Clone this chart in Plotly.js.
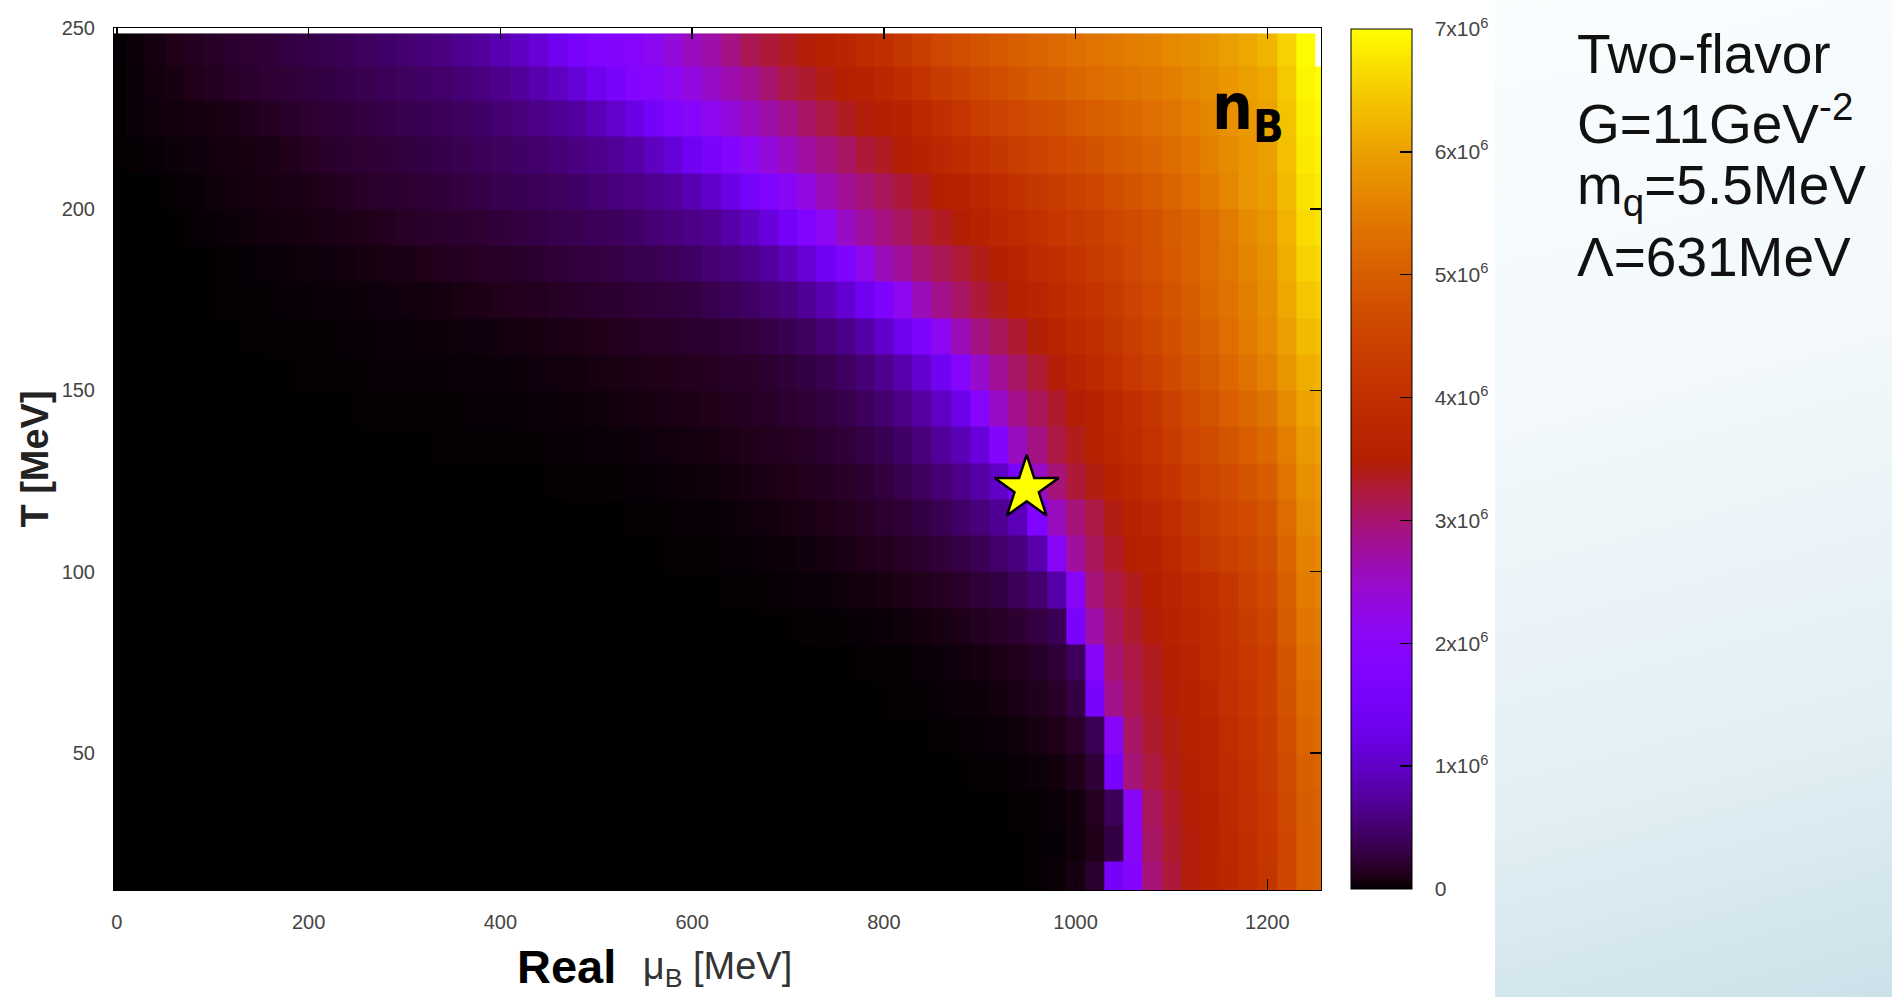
<!DOCTYPE html>
<html>
<head>
<meta charset="utf-8">
<script src="https://cdn.plot.ly/plotly-3.0.1.min.js"></script>
<style>
  html, body { margin: 0; padding: 0; background: #ffffff; width: 1892px; height: 997px; overflow: hidden; }
  #bgpanel { position: absolute; left: 1495px; top: 0; width: 397px; height: 997px; z-index: 0;
    background: linear-gradient(165deg, #fafdfe 0%, #f2f8fb 40%, #e2eff4 75%, #cbe1e9 100%); }
  #chart { position: absolute; left: 0; top: 0; width: 1892px; height: 997px; z-index: 1; }
</style>
</head>
<body>
<div id="bgpanel"></div>
<div id="chart"></div>
<script>
// ---- axes (MeV) ----
const muB = [0,20,40,60,80,100,120,140,160,180,200,220,240,260,280,300,320,340,360,380,400,420,440,460,480,500,520,540,560,580,600,620,640,660,680,700,720,740,760,780,800,820,840,860,880,900,920,940,960,980,1000,1020,1040,1060,1080,1100,1120,1140,1160,1180,1200,1220,1240,1260];
const T = [15,25,35,45,55,65,75,85,95,105,115,125,135,145,155,165,175,185,195,205,215,225,235,244];

// ---- n_B values, in units of 10^6, one array per temperature row (mu_B = 0..1260 step 20) ----
const nB_T015 = [0,0,0,0,0,0,0,0,0,0,0,0,0,0,0,0,0,0,0,0,0,0,0,0,0,0,0,0,0,0,0,0,0,0,0,0,0,0,0,0,0,0,0,0,0.001,0.003,0.006,0.011,0.02,0.04,0.08,0.2,1.5,1.9,2.95,3.25,3.45,3.6,3.77,3.97,4.17,4.55,4.95,5.05];
const nB_T025 = [0,0,0,0,0,0,0,0,0,0,0,0,0,0,0,0,0,0,0,0,0,0,0,0,0,0,0,0,0,0,0,0,0,0,0,0,0,0,0,0,0,0,0,0,0,0.003,0.005,0.009,0.016,0.027,0.05,0.11,0.3,2.0,3.05,3.3,3.45,3.6,3.78,3.98,4.18,4.56,4.95,5.05];
const nB_T035 = [0,0,0,0,0,0,0,0,0,0,0,0,0,0,0,0,0,0,0,0,0,0,0,0,0,0,0,0,0,0,0,0,0,0,0,0,0,0,0,0,0,0,0,0,0.002,0.004,0.008,0.013,0.022,0.037,0.065,0.15,0.4,2.0,3.1,3.33,3.48,3.62,3.82,4.02,4.22,4.6,5.0,5.1];
const nB_T045 = [0,0,0,0,0,0,0,0,0,0,0,0,0,0,0,0,0,0,0,0,0,0,0,0,0,0,0,0,0,0,0,0,0,0,0,0,0,0,0,0,0,0,0.003,0.004,0.007,0.012,0.018,0.027,0.041,0.063,0.11,0.25,1.6,2.95,3.22,3.4,3.55,3.66,3.88,4.07,4.27,4.65,5.05,5.15];
const nB_T055 = [0,0,0,0,0,0,0,0,0,0,0,0,0,0,0,0,0,0,0,0,0,0,0,0,0,0,0,0,0,0,0,0,0,0,0,0,0,0.002,0.003,0.005,0.006,0.008,0.011,0.015,0.02,0.028,0.037,0.053,0.076,0.11,0.19,0.38,2.0,3.05,3.3,3.43,3.58,3.7,3.93,4.12,4.32,4.72,5.15,5.25];
const nB_T065 = [0,0,0,0,0,0,0,0,0,0,0,0,0,0,0,0,0,0,0,0,0,0,0,0,0,0,0,0,0,0,0,0,0,0,0,0,0.003,0.004,0.006,0.008,0.011,0.014,0.02,0.027,0.036,0.047,0.062,0.086,0.12,0.18,0.3,1.6,2.85,3.15,3.32,3.47,3.6,3.75,4.01,4.18,4.38,4.8,5.22,5.32];
const nB_T075 = [0,0,0,0,0,0,0,0,0,0,0,0,0,0,0,0,0,0,0,0,0,0,0,0,0,0,0,0,0,0,0,0,0,0,0,0.003,0.004,0.007,0.01,0.013,0.017,0.024,0.033,0.042,0.055,0.068,0.092,0.125,0.17,0.25,0.4,2.0,3.0,3.2,3.37,3.52,3.63,3.85,4.05,4.22,4.4,4.85,5.3,5.4];
const nB_T085 = [0,0,0,0,0,0,0,0,0,0,0,0,0,0,0,0,0,0,0,0,0,0,0,0,0,0,0,0,0,0,0.002,0.003,0.004,0.006,0.008,0.01,0.014,0.018,0.024,0.03,0.038,0.05,0.064,0.08,0.1,0.13,0.17,0.22,0.29,0.38,1.6,2.7,3.1,3.3,3.45,3.6,3.72,3.9,4.1,4.31,4.51,4.95,5.4,5.5];
const nB_T095 = [0,0,0,0,0,0,0,0,0,0,0,0,0,0,0,0,0,0,0,0,0,0,0,0,0,0.002,0.003,0.004,0.005,0.007,0.009,0.011,0.014,0.018,0.022,0.027,0.034,0.042,0.052,0.063,0.08,0.1,0.12,0.15,0.19,0.24,0.3,0.39,0.5,0.8,2.0,2.95,3.2,3.37,3.55,3.65,3.82,4.0,4.2,4.44,4.62,5.05,5.5,5.6];
const nB_T105 = [0,0,0,0,0,0,0,0,0,0,0,0,0,0,0,0,0,0,0,0,0,0,0,0,0.003,0.004,0.006,0.008,0.011,0.013,0.017,0.021,0.027,0.032,0.038,0.048,0.058,0.07,0.087,0.11,0.13,0.16,0.2,0.25,0.31,0.38,0.48,0.58,0.82,2.0,2.75,3.1,3.33,3.5,3.62,3.8,4.05,4.24,4.41,4.56,4.73,5.15,5.58,5.68];
const nB_T115 = [0,0,0,0,0,0,0,0,0,0,0,0,0,0,0,0,0,0,0,0,0,0,0,0.004,0.006,0.008,0.01,0.013,0.018,0.022,0.027,0.032,0.04,0.05,0.06,0.074,0.09,0.11,0.13,0.16,0.2,0.24,0.3,0.37,0.46,0.56,0.68,0.9,1.75,2.55,2.95,3.2,3.42,3.6,3.75,3.95,4.2,4.38,4.54,4.69,4.84,5.25,5.68,5.78];
const nB_T125 = [0,0,0,0,0,0,0,0,0,0,0,0,0,0.001,0.002,0.003,0.004,0.004,0.005,0.006,0.007,0.008,0.009,0.012,0.015,0.02,0.023,0.026,0.031,0.039,0.046,0.052,0.063,0.078,0.093,0.11,0.13,0.155,0.19,0.22,0.28,0.34,0.42,0.52,0.65,0.78,1.0,1.6,2.5,2.95,3.25,3.42,3.6,3.76,3.93,4.13,4.38,4.53,4.68,4.84,4.99,5.38,5.78,5.88];
const nB_T135 = [0,0,0,0,0,0,0,0,0,0,0.002,0.004,0.005,0.006,0.007,0.01,0.011,0.013,0.014,0.016,0.018,0.02,0.023,0.027,0.031,0.035,0.04,0.046,0.055,0.062,0.07,0.08,0.095,0.115,0.13,0.15,0.17,0.21,0.25,0.31,0.37,0.46,0.56,0.72,0.88,1.15,1.9,2.55,2.9,3.2,3.38,3.58,3.74,3.91,4.09,4.29,4.52,4.67,4.84,5.01,5.18,5.52,5.9,6.0];
const nB_T145 = [0,0,0,0,0,0,0,0,0.001,0.003,0.006,0.008,0.01,0.012,0.015,0.018,0.02,0.022,0.024,0.026,0.028,0.032,0.036,0.04,0.045,0.052,0.06,0.07,0.079,0.088,0.1,0.115,0.13,0.15,0.17,0.2,0.24,0.28,0.33,0.41,0.5,0.62,0.77,0.98,1.3,1.95,2.5,2.85,3.1,3.3,3.48,3.62,3.8,4.0,4.2,4.42,4.65,4.83,5.01,5.19,5.37,5.68,6.02,6.12];
const nB_T155 = [0,0,0,0,0,0,0,0.002,0.006,0.01,0.013,0.016,0.019,0.022,0.026,0.028,0.03,0.032,0.034,0.036,0.042,0.048,0.055,0.061,0.066,0.075,0.085,0.095,0.105,0.115,0.13,0.15,0.17,0.19,0.22,0.25,0.3,0.35,0.43,0.53,0.66,0.84,1.07,1.4,1.95,2.45,2.8,3.05,3.27,3.45,3.64,3.82,4.03,4.22,4.42,4.62,4.83,4.98,5.17,5.36,5.56,5.85,6.15,6.25];
const nB_T165 = [0,0,0,0.001,0.003,0.006,0.009,0.012,0.015,0.018,0.02,0.024,0.028,0.031,0.035,0.039,0.044,0.048,0.052,0.058,0.065,0.072,0.08,0.09,0.1,0.11,0.13,0.15,0.16,0.18,0.2,0.22,0.24,0.27,0.31,0.36,0.43,0.52,0.63,0.8,1.03,1.35,1.7,2.1,2.6,2.9,3.1,3.28,3.48,3.63,3.83,3.98,4.17,4.36,4.55,4.74,4.94,5.09,5.29,5.49,5.68,5.98,6.3,6.4];
const nB_T175 = [0,0,0,0.002,0.005,0.01,0.013,0.017,0.02,0.026,0.032,0.036,0.04,0.047,0.055,0.06,0.065,0.07,0.085,0.1,0.12,0.13,0.14,0.16,0.18,0.2,0.22,0.24,0.26,0.28,0.3,0.34,0.39,0.44,0.51,0.58,0.7,0.86,1.08,1.38,1.72,2.15,2.6,2.85,3.05,3.25,3.4,3.56,3.68,3.83,3.98,4.14,4.3,4.47,4.65,4.83,5.0,5.18,5.36,5.55,5.74,6.08,6.42,6.52];
const nB_T185 = [0,0,0.002,0.004,0.007,0.011,0.014,0.025,0.035,0.045,0.05,0.056,0.066,0.075,0.085,0.09,0.11,0.13,0.15,0.16,0.17,0.19,0.21,0.24,0.27,0.29,0.31,0.34,0.36,0.4,0.44,0.51,0.57,0.63,0.75,0.91,1.13,1.42,1.73,2.2,2.6,2.78,2.97,3.12,3.26,3.4,3.55,3.7,3.85,4.0,4.13,4.27,4.42,4.58,4.75,4.92,5.1,5.27,5.44,5.62,5.8,6.15,6.55,6.65];
const nB_T195 = [0,0,0.005,0.01,0.02,0.03,0.04,0.05,0.06,0.07,0.08,0.09,0.1,0.11,0.13,0.16,0.18,0.2,0.22,0.23,0.26,0.29,0.31,0.34,0.36,0.39,0.41,0.46,0.52,0.57,0.62,0.68,0.81,0.96,1.18,1.45,1.75,2.1,2.5,2.75,2.92,3.07,3.22,3.35,3.48,3.6,3.74,3.88,4.03,4.18,4.3,4.4,4.52,4.66,4.8,4.95,5.1,5.27,5.47,5.7,5.85,6.22,6.65,6.75];
const nB_T205 = [0,0.005,0.01,0.02,0.03,0.05,0.06,0.07,0.08,0.09,0.1,0.12,0.15,0.18,0.2,0.22,0.24,0.26,0.29,0.32,0.35,0.37,0.4,0.43,0.45,0.51,0.57,0.61,0.66,0.73,0.87,1.03,1.25,1.52,1.8,2.0,2.3,2.6,2.8,2.95,3.1,3.25,3.37,3.5,3.6,3.72,3.88,4.05,4.2,4.33,4.45,4.56,4.71,4.84,4.98,5.12,5.28,5.45,5.65,5.84,5.95,6.3,6.72,6.82];
const nB_T215 = [0.01,0.02,0.03,0.04,0.05,0.06,0.07,0.08,0.09,0.12,0.15,0.18,0.21,0.23,0.25,0.27,0.3,0.33,0.36,0.39,0.42,0.45,0.49,0.53,0.59,0.64,0.71,0.81,0.95,1.14,1.38,1.65,1.85,2.1,2.35,2.55,2.75,2.9,3.05,3.25,3.35,3.48,3.6,3.75,3.9,4.06,4.2,4.34,4.47,4.58,4.69,4.8,4.91,5.03,5.14,5.26,5.41,5.56,5.7,5.84,5.98,6.35,6.8,6.9];
const nB_T225 = [0.02,0.04,0.05,0.06,0.07,0.08,0.09,0.12,0.15,0.18,0.21,0.24,0.26,0.29,0.31,0.34,0.37,0.4,0.43,0.46,0.51,0.56,0.62,0.68,0.76,0.88,1.04,1.25,1.5,1.77,1.95,2.15,2.35,2.55,2.7,2.85,3.05,3.2,3.35,3.45,3.55,3.62,3.8,3.98,4.16,4.34,4.46,4.58,4.7,4.8,4.91,5.01,5.11,5.21,5.3,5.39,5.52,5.65,5.78,5.9,6.03,6.4,6.85,6.95];
const nB_T235 = [0.02,0.04,0.06,0.08,0.11,0.14,0.17,0.2,0.23,0.25,0.28,0.3,0.33,0.36,0.39,0.42,0.45,0.48,0.53,0.58,0.65,0.72,0.83,0.96,1.14,1.37,1.62,1.85,1.95,2.1,2.3,2.5,2.65,2.8,3.0,3.2,3.3,3.42,3.52,3.6,3.75,3.9,4.1,4.3,4.45,4.6,4.72,4.84,4.95,5.05,5.15,5.23,5.32,5.39,5.46,5.53,5.64,5.75,5.86,5.97,6.08,6.45,6.9,7.0];
const nB_T244 = [0.02,0.045,0.07,0.11,0.14,0.17,0.2,0.23,0.26,0.29,0.32,0.35,0.38,0.42,0.46,0.5,0.54,0.59,0.66,0.75,0.86,0.97,1.13,1.35,1.6,1.8,1.88,1.95,2.1,2.35,2.55,2.7,2.9,3.12,3.25,3.35,3.47,3.57,3.7,3.85,4.0,4.2,4.4,4.58,4.72,4.82,4.92,5.02,5.12,5.22,5.3,5.38,5.45,5.52,5.58,5.67,5.76,5.85,5.97,6.08,6.25,6.55,6.95,null];

// ---- critical end point ----
const cepMu = [949];
const cepT = [123];

// ---- tick labels ----
const xTicks = [0,200,400,600,800,1000,1200];
const yTicks = [50,100,150,200,250];
const cbTickVals = [0,1,2,3,4,5,6,7];
const cbTickText = ['0','1x10<sup>6</sup>','2x10<sup>6</sup>','3x10<sup>6</sup>','4x10<sup>6</sup>','5x10<sup>6</sup>','6x10<sup>6</sup>','7x10<sup>6</sup>'];

const textLines = ['Two-flavor', 'G=11GeV<sup>-2</sup>', 'm<sub>q</sub>=5.5MeV', 'Λ=631MeV'];

// gnuplot default pm3d palette (rgbformulae 7,5,15)
const N = 64;
const colorscale = [];
for (let i = 0; i <= N; i++) {
  const t = i / N;
  const r = Math.round(255 * Math.sqrt(t));
  const g = Math.round(255 * Math.pow(t, 3));
  const b = Math.round(255 * Math.max(0, Math.sin(2 * Math.PI * t)));
  colorscale.push([t, `rgb(${r},${g},${b})`]);
}

const rows = [nB_T015,nB_T025,nB_T035,nB_T045,nB_T055,nB_T065,nB_T075,nB_T085,nB_T095,nB_T105,nB_T115,nB_T125,nB_T135,nB_T145,nB_T155,nB_T165,nB_T175,nB_T185,nB_T195,nB_T205,nB_T215,nB_T225,nB_T235,nB_T244];
const z = rows.map(r => r.map(v => v === null ? null : v * 1e6));

const FONT = 'Liberation Sans, Arial, Helvetica, sans-serif';
const NARROW = 'Liberation Sans Narrow, DejaVu Sans Condensed, Liberation Sans, Arial, sans-serif';
const PAD = '\u00a0\u00a0\u00a0';

const heat = {
  type: 'heatmap', x: muB, y: T, z: z,
  zmin: 0, zmax: 7e6, colorscale: colorscale, hoverinfo: 'skip',
  colorbar: {
    x: 1.0249, xanchor: 'left', xpad: 0,
    y: 0.5, yanchor: 'middle', ypad: 0,
    len: 860, lenmode: 'pixels', thickness: 61, thicknessmode: 'pixels',
    outlinewidth: 1, outlinecolor: '#000',
    tickmode: 'array', tickvals: cbTickVals.map(v => v * 1e6), ticktext: cbTickText.map(s => PAD + s),
    ticks: 'inside', ticklen: 12, tickwidth: 1.5, tickcolor: '#000',
    tickfont: { family: FONT, size: 21, color: '#444' }
  }
};

const star = {
  type: 'scatter', mode: 'markers', x: cepMu, y: cepT, hoverinfo: 'skip', showlegend: false,
  marker: { symbol: 'star', size: 48, color: '#ffff00', line: { color: '#000', width: 2.5 } }
};

const annotations = [
  { text: '<b>Real</b>', xref: 'paper', yref: 'paper', x: 0.3753, y: -0.0882, xanchor: 'center', yanchor: 'middle',
    showarrow: false, font: { family: FONT, size: 47, color: '#000' } },
  { text: '<b>n<sub>B</sub></b>', xref: 'paper', yref: 'paper', x: 0.9395, y: 0.9026, xanchor: 'center', yanchor: 'middle',
    showarrow: false, font: { family: NARROW, size: 64, color: '#000' } }
];
const lineY = [0.970, 0.8933, 0.8132, 0.7343];
textLines.forEach((t, i) => annotations.push({
  text: t, xref: 'paper', yref: 'paper', x: 1.2104, y: lineY[i], xanchor: 'left', yanchor: 'middle',
  showarrow: false, font: { family: FONT, size: 55, color: '#111' }
}));

const layout = {
  width: 1892, height: 997,
  margin: { l: 114, r: 571, t: 28, b: 107, pad: 0 },
  paper_bgcolor: 'rgba(0,0,0,0)', plot_bgcolor: '#ffffff',
  font: { family: FONT },
  showlegend: false,
  xaxis: {
    range: [-3, 1256], tickmode: 'array', tickvals: xTicks,
    ticks: 'inside', ticklen: 11, tickwidth: 1.5, tickcolor: '#000',
    showline: true, linecolor: '#000', linewidth: 1, mirror: 'ticks',
    showgrid: false, zeroline: false, automargin: false,
    tickfont: { family: FONT, size: 20, color: '#444' }, ticklabelstandoff: 14,
    title: { text: 'μ<sub>B</sub> [MeV]', font: { family: FONT, size: 38, color: '#333' }, standoff: 20 }
  },
  yaxis: {
    range: [12.2, 250], tickmode: 'array', tickvals: yTicks,
    ticks: 'inside', ticklen: 11, tickwidth: 1.5, tickcolor: '#000',
    showline: true, linecolor: '#000', linewidth: 1, mirror: 'ticks',
    showgrid: false, zeroline: false, automargin: false,
    tickfont: { family: FONT, size: 20, color: '#444' }, ticklabelstandoff: 14,
    title: { text: '<b>T [MeV]</b>', font: { family: FONT, size: 38, color: '#222' }, standoff: 1 }
  },
  annotations: annotations
};

Plotly.newPlot('chart', [heat, star], layout, { displayModeBar: false, staticPlot: true });
</script>
</body>
</html>
